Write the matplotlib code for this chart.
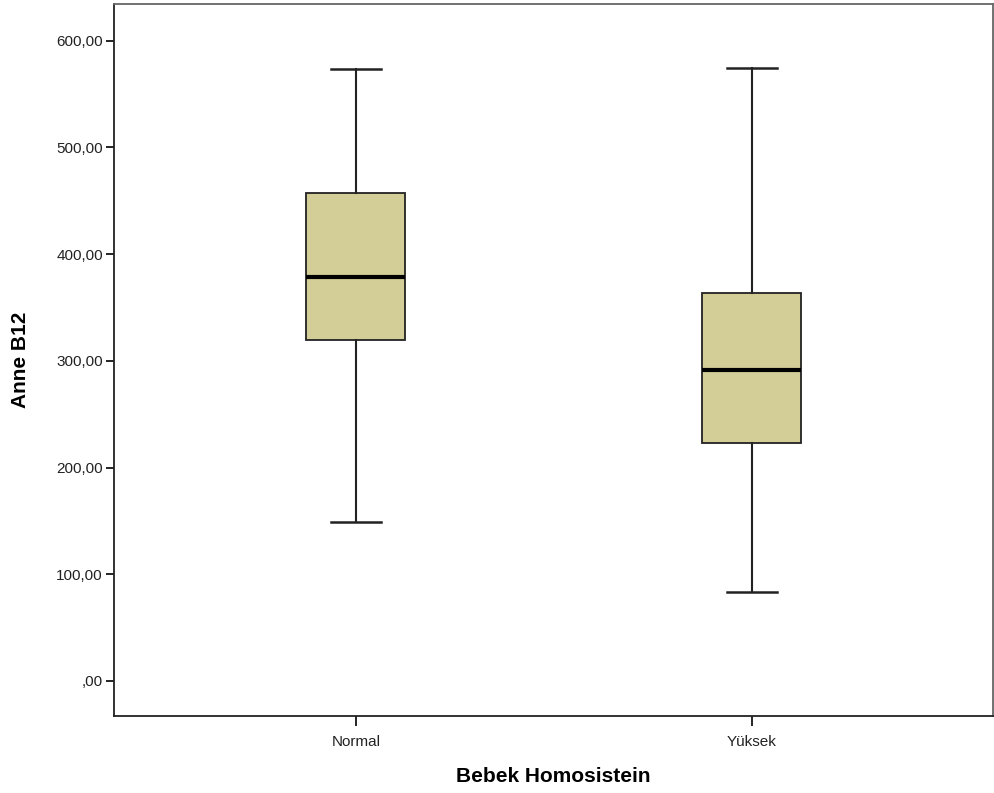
import matplotlib
matplotlib.use("Agg")
import matplotlib.pyplot as plt

categories = ["Normal", "Yüksek"]
whislo = [149.0, 83.4]
q1 = [319.6, 223.1]
med = [378.6, 291.5]
q3 = [457.4, 363.6]
whishi = [573.6, 574.5]
yticks = [0, 100, 200, 300, 400, 500, 600]
yticklabels = [",00", "100,00", "200,00", "300,00", "400,00", "500,00", "600,00"]

plt.rcParams['font.family'] = ['Liberation Sans', 'DejaVu Sans']

fig = plt.figure(figsize=(9.94, 7.93), dpi=100)
ax = fig.add_axes([0.1147, 0.0971, 0.8843, 0.898])

stats = []
for i, c in enumerate(categories):
    stats.append(dict(label=c, whislo=whislo[i], q1=q1[i], med=med[i], q3=q3[i], whishi=whishi[i], fliers=[]))

ax.bxp(stats, positions=[1, 2], widths=0.25, patch_artist=True, showfliers=False,
       boxprops=dict(facecolor="#d3ce98", edgecolor="#222222", linewidth=1.3),
       medianprops=dict(color="black", linewidth=3),
       whiskerprops=dict(color="#222222", linewidth=1.5),
       capprops=dict(color="#222222", linewidth=1.8),
       capwidths=0.125)

ax.set_xlim(0.389, 2.609)
ax.set_ylim(-32.8, 634.5)
ax.set_yticks(yticks)
ax.set_yticklabels(yticklabels, fontsize=11, color="#222222")
ax.set_xticks([1, 2])
ax.set_xticklabels(categories, fontsize=11, color="#222222")
ax.tick_params(axis='y', length=6, width=1.2, pad=2)
ax.tick_params(axis='x', length=7, width=1.2, pad=7)

for s in ["left", "bottom"]:
    ax.spines[s].set_color("#222222")
    ax.spines[s].set_linewidth(1.3)
for s in ["top", "right"]:
    ax.spines[s].set_color("#666666")
    ax.spines[s].set_linewidth(1.3)

ax.set_xlabel("Bebek Homosistein", fontsize=15, fontweight="bold", labelpad=13)
ax.set_ylabel("Anne B12", fontsize=15, fontweight="bold", labelpad=19)

fig.savefig("out.png", dpi=100)
